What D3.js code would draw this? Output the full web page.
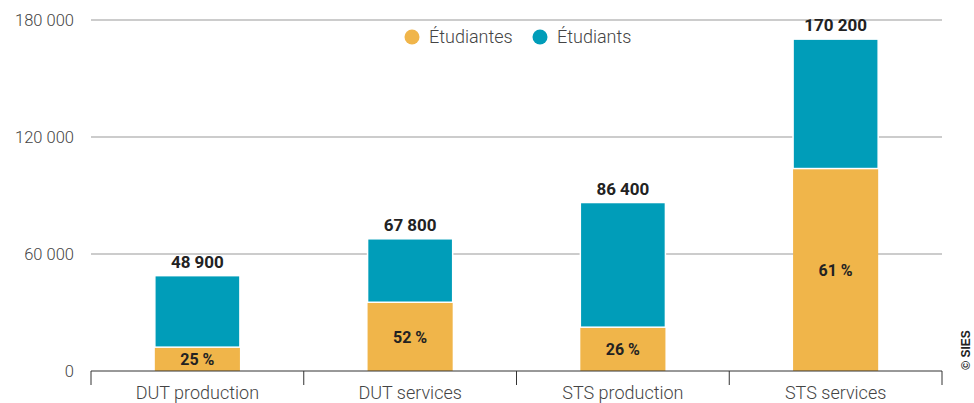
<!DOCTYPE html>
<meta charset="utf-8"/>
<title>Étudiantes et étudiants</title>
<style>
    body { margin: 0; background: #fff; }
    text { font-family: Roboto, "Noto Sans", sans-serif; }
    .grid line { stroke: #999; stroke-width: 1px; }
    .ylab { font-size: 16.5px; fill: #444; font-weight: 300; }
    .xlab { font-size: 18px; fill: #444; font-weight: 300; }
    .total { font-size: 17px; font-weight: bold; fill: #222; }
    .pct { font-size: 16px; font-weight: bold; fill: #222; }
    .legend text { font-size: 18px; fill: #444; font-weight: 300; }
</style>
<script src="https://cdn.jsdelivr.net/npm/d3@7"></script>
<svg id="chart" width="974" height="403"></svg>
<script>
    "use strict";

    const categories = ["DUT production", "DUT services", "STS production", "STS services"];
    const totals = [48900, 67800, 86400, 170200];
    const femaleShare = [25, 52, 26, 61];
    const yTicks = [0, 60000, 120000, 180000];
    const seriesNames = ["Étudiantes", "Étudiants"];
    const colors = ["#f0b54a", "#009db9"];

    const margin = {top: 20, right: 32, bottom: 32, left: 91};
    const width = 974, height = 403;
    const svg = d3.select("#chart");

    const x = d3.scaleBand()
        .domain(categories)
        .range([margin.left, width - margin.right])
        .paddingInner(0.6)
        .paddingOuter(0.3);

    const y = d3.scaleLinear()
        .domain([0, 180000])
        .range([height - margin.bottom, margin.top]);

    const fmt = function (v)
    {
        return d3.format(",")(v).replace(/,/g, " ");
    };

    // gridlines
    svg.append("g").attr("class", "grid")
        .selectAll("line")
        .data(yTicks.filter(function (d) { return d > 0; }))
        .enter().append("line")
        .attr("x1", margin.left).attr("x2", width - margin.right)
        .attr("y1", function (d) { return y(d); })
        .attr("y2", function (d) { return y(d); });

    svg.append("g").selectAll("text")
        .data(yTicks)
        .enter().append("text")
        .attr("class", "ylab")
        .attr("x", 74)
        .attr("y", function (d) { return y(d); })
        .attr("dy", "0.35em")
        .attr("text-anchor", "end")
        .text(fmt);

    // stacked data
    const rows = categories.map(function (c, i)
    {
        const f = totals[i] * femaleShare[i] / 100;
        return {cat: c, total: totals[i], pct: femaleShare[i], f: f, m: totals[i] - f};
    });

    const bars = svg.append("g").selectAll("g")
        .data(rows).enter().append("g");

    bars.append("rect")
        .attr("x", function (d) { return x(d.cat); })
        .attr("width", x.bandwidth())
        .attr("y", function (d) { return y(d.f); })
        .attr("height", function (d) { return y(0) - y(d.f); })
        .attr("fill", colors[0]);

    bars.append("rect")
        .attr("x", function (d) { return x(d.cat); })
        .attr("width", x.bandwidth())
        .attr("y", function (d) { return y(d.total); })
        .attr("height", function (d) { return y(d.f) - y(d.total); })
        .attr("fill", colors[1])
        .attr("stroke", "#fff")
        .attr("stroke-width", 1.5);

    bars.append("text")
        .attr("class", "total")
        .attr("x", function (d) { return x(d.cat) + x.bandwidth() / 2; })
        .attr("y", function (d) { return y(d.total) - 8; })
        .attr("text-anchor", "middle")
        .text(function (d) { return fmt(d.total); });

    bars.append("text")
        .attr("class", "pct")
        .attr("x", function (d) { return x(d.cat) + x.bandwidth() / 2; })
        .attr("y", function (d) { return (y(0) + y(d.f)) / 2; })
        .attr("dy", "0.38em")
        .attr("text-anchor", "middle")
        .text(function (d) { return d.pct + " %"; });

    // x axis
    const xAxis = svg.append("g").attr("transform", "translate(0," + y(0) + ")");
    xAxis.append("line")
        .attr("x1", margin.left).attr("x2", width - margin.right)
        .attr("stroke", "#333");
    const edges = d3.range(categories.length + 1).map(function (i)
    {
        return margin.left + i * (width - margin.right - margin.left) / categories.length;
    });
    xAxis.selectAll(".tk").data(edges).enter().append("line")
        .attr("x1", function (d) { return d; }).attr("x2", function (d) { return d; })
        .attr("y1", 0).attr("y2", 14)
        .attr("stroke", "#333");
    xAxis.selectAll(".xlab").data(categories).enter().append("text")
        .attr("class", "xlab")
        .attr("x", function (d) { return x(d) + x.bandwidth() / 2; })
        .attr("y", 28)
        .attr("text-anchor", "middle")
        .text(function (d) { return d; });

    // legend
    const legend = svg.append("g").attr("class", "legend");
    const legendX = [412, 540];
    seriesNames.forEach(function (name, i)
    {
        legend.append("circle")
            .attr("cx", legendX[i]).attr("cy", 37).attr("r", 7.5)
            .attr("fill", colors[i]);
        legend.append("text")
            .attr("x", legendX[i] + 17).attr("y", 37)
            .attr("dy", "0.35em")
            .text(name);
    });

    // copyright
    svg.append("text")
        .attr("transform", "translate(970,350) rotate(-90)")
        .attr("text-anchor", "middle")
        .attr("font-size", 12)
        .attr("font-weight", "bold")
        .attr("fill", "#222")
        .style("font-family", "Arial, 'Liberation Sans', sans-serif")
        .text("© SIES");
</script>
